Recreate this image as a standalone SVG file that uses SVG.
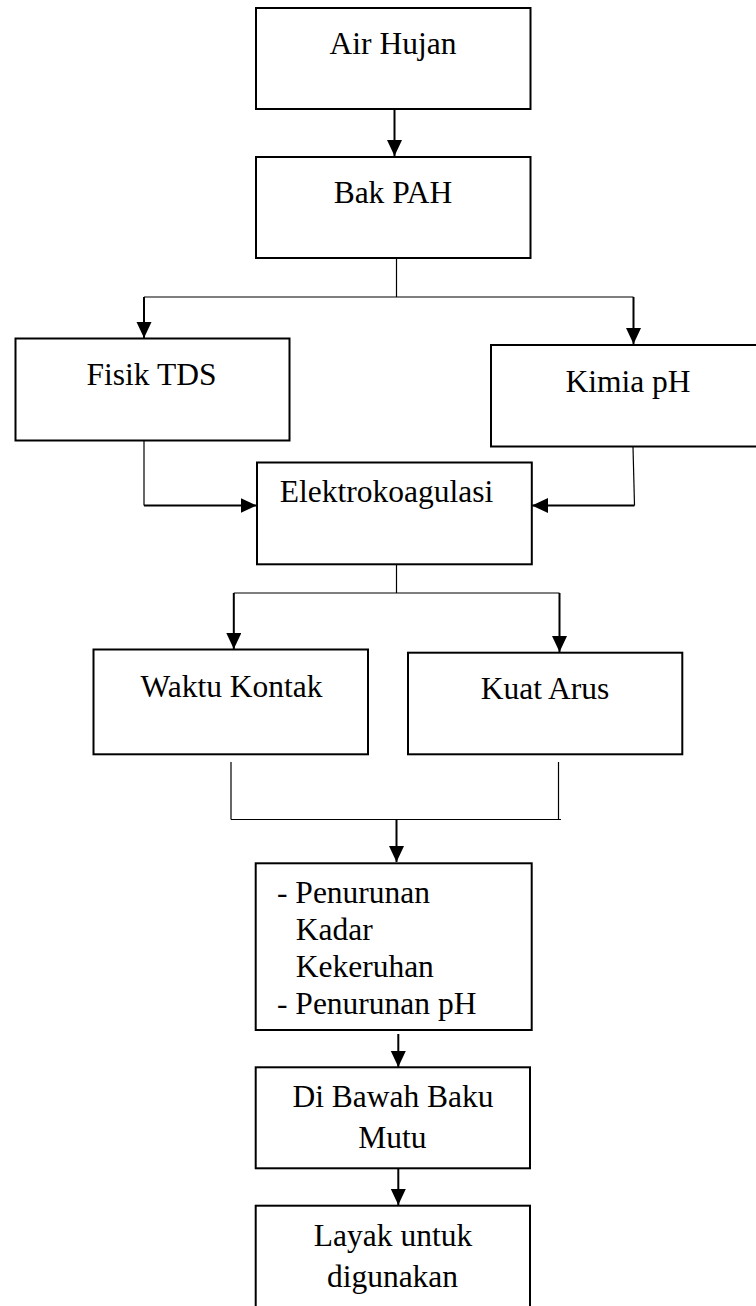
<svg xmlns="http://www.w3.org/2000/svg" width="756" height="1306" viewBox="0 0 756 1306">
<style>
.box{fill:#fff;stroke:#000;stroke-width:2}
.lbl{font-family:"Liberation Serif","Times New Roman",serif;font-size:31.5px;fill:#000}
.c{text-anchor:middle}
.thin{fill:none;stroke:#000;stroke-width:1.2}
.arr{fill:none;stroke:#000;stroke-width:2;marker-end:url(#ah)}
</style>
<defs>
<marker id="ah" markerUnits="userSpaceOnUse" markerWidth="17" markerHeight="16" refX="16" refY="7.5" orient="auto">
<path d="M0,0 L16,7.5 L0,15 z" fill="#000"/>
</marker>
</defs>
<rect width="756" height="1306" fill="#fff"/>
<g id="connectors">
<path class="arr" d="M394.5,109 V156"/>
<path class="thin" d="M396.5,258 V297"/>
<path class="thin" d="M144,297 H633.5"/>
<path class="arr" d="M144,297 V338"/>
<path class="arr" d="M633.5,297 V344"/>
<path class="thin" d="M144,441 V505.5"/>
<path class="arr" d="M144,505.5 H256.5"/>
<path class="thin" d="M633,447 L634.5,505.5"/>
<path class="arr" d="M634.5,505.5 H532"/>
<path class="thin" d="M396.5,564 V593"/>
<path class="thin" d="M233.8,593 H559.5"/>
<path class="arr" d="M233.8,593 V649"/>
<path class="arr" d="M559.5,593 V652"/>
<path class="thin" d="M231,762 V819.5"/>
<path class="thin" d="M558.5,762 V819.5"/>
<path class="thin" d="M231,819.5 H561"/>
<path class="arr" d="M396.5,819.5 V862"/>
<path class="arr" d="M398.3,1034 V1067"/>
<path class="arr" d="M398.3,1166 V1205"/>
</g>
<g id="air-hujan">
<rect class="box" x="256" y="8" width="274.5" height="101"/>
<text class="lbl c" x="393" y="54">Air Hujan</text>
</g>
<g id="bak-pah">
<rect class="box" x="256" y="157" width="274.5" height="101"/>
<text class="lbl c" x="393" y="203">Bak PAH</text>
</g>
<g id="fisik-tds">
<rect class="box" x="15.5" y="338.5" width="274" height="102"/>
<text class="lbl c" x="151.5" y="385">Fisik TDS</text>
</g>
<g id="kimia-ph">
<rect class="box" x="491" y="345" width="274" height="101.5"/>
<text class="lbl c" x="628" y="392">Kimia pH</text>
</g>
<g id="elektrokoagulasi">
<rect class="box" x="257" y="462.5" width="274.8" height="101.8"/>
<text class="lbl c" x="386.5" y="501.5">Elektrokoagulasi</text>
</g>
<g id="waktu-kontak">
<rect class="box" x="93.5" y="649.5" width="274.5" height="104.8"/>
<text class="lbl c" x="231.5" y="696.5">Waktu Kontak</text>
</g>
<g id="kuat-arus">
<rect class="box" x="408" y="652.7" width="274.3" height="101.6"/>
<text class="lbl c" x="545" y="699.3">Kuat Arus</text>
</g>
<g id="penurunan">
<rect class="box" x="255.7" y="863.3" width="276" height="166.7"/>
<text class="lbl" x="277" y="903.3">- Penurunan</text>
<text class="lbl" x="295.7" y="940">Kadar</text>
<text class="lbl" x="295.7" y="976.7">Kekeruhan</text>
<text class="lbl" x="277" y="1014">- Penurunan pH</text>
</g>
<g id="baku-mutu">
<rect class="box" x="255.7" y="1067.3" width="274.3" height="101"/>
<text class="lbl c" x="393" y="1106.7">Di Bawah Baku</text>
<text class="lbl c" x="392.5" y="1148.3">Mutu</text>
</g>
<g id="layak">
<rect class="box" x="255.7" y="1205.7" width="274.3" height="110"/>
<text class="lbl c" x="393" y="1246">Layak untuk</text>
<text class="lbl c" x="392.5" y="1286.7">digunakan</text>
</g>
</svg>
